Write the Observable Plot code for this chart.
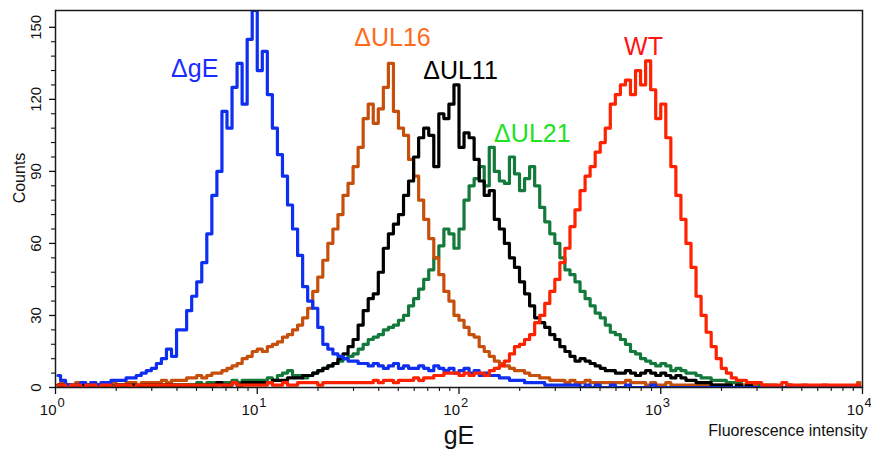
<!DOCTYPE html>
<html><head><meta charset="utf-8">
<script src="https://cdn.jsdelivr.net/npm/d3@7"></script>
<script src="https://cdn.jsdelivr.net/npm/@observablehq/plot@0.6"></script>
<style>body{margin:0;background:#fff} svg{display:block}</style>
</head><body><div id="chart"></div>
<script>
// Histogram channels: 40 bins per decade over 10^0 .. 10^4 (160 bins)
const binsPerDecade = 40;
const decadeTicks = [1, 10, 100, 1000, 10000];
const decadeExponents = ["0", "1", "2", "3", "4"];
const countTicks = [0, 30, 60, 90, 120, 150];
const countMinorTicks = [6,12,18,24,36,42,48,54,66,72,78,84,96,102,108,114,126,132,138,144];

const seriesNames = ["ΔgE", "ΔUL16", "ΔUL11", "ΔUL21", "WT"];

const countsGE = [
  5,3,1,1,1,2,1,2,1,2, 2,3,3,3,4,4,5,6,7,8,
  10,12,16,13,24,24,32,38,44,52, 64,80,90,115,108,125,135,118,145,157,
  132,140,122,108,97,88,76,66,55,42, 36,33,25,18,16,14,13,12,11,11,
  10,10,9,10,9,8,9,10,8,9, 8,8,9,8,7,9,8,7,8,6,
  7,8,6,7,5,6,5,5,4,4, 3,3,3,2,2,2,2,1,1,1,
  1,1,1,1,0,1,0,1,0,0, 1,0,0,1,0,0,0,0,1,0,
  0,0,0,0,0,0,0,0,0,0, 0,0,0,0,0,0,0,0,0,0,
  0,0,0,0,0,0,0,0,0,0, 0,0,0,0,0,0,0,0,0,0
];
const countsUL16 = [
  1,2,1,1,2,1,1,2,1,1, 1,2,1,1,2,2,1,2,2,2,
  2,3,2,3,3,3,4,4,5,4, 5,6,6,7,8,9,10,12,13,15,
  16,15,17,18,19,21,22,24,26,29, 33,40,46,53,60,66,72,80,85,92,
  100,112,118,110,116,125,135,115,108,105, 95,88,78,70,62,54,47,40,36,30,
  28,25,22,21,17,15,13,11,10,9, 8,7,7,6,5,5,4,4,3,3,
  3,2,3,2,2,3,2,2,2,2, 2,2,2,3,2,2,2,1,2,1,
  1,2,1,1,1,1,1,1,1,1, 1,1,1,1,0,1,1,0,1,0,
  1,0,1,0,0,1,0,0,1,0, 0,0,1,0,0,0,0,0,0,2
];
const countsUL11 = [
  1,1,1,0,1,1,1,0,1,1, 1,0,1,1,1,1,0,1,1,1,
  1,1,1,1,1,1,1,1,1,1, 1,1,2,1,1,2,1,2,2,2,
  2,2,2,3,3,3,4,4,4,5, 5,6,7,8,9,10,12,14,17,20,
  26,32,37,39,48,58,64,68,72,80, 86,96,104,108,105,92,114,112,118,126,
  100,106,104,95,86,80,82,70,66,60, 54,50,44,39,34,29,27,25,22,20,
  17,15,13,11,12,11,10,9,8,7, 7,6,6,7,6,5,6,7,6,5,
  6,5,4,5,4,3,3,2,2,2, 1,1,1,1,0,1,0,1,0,0,
  0,0,0,0,0,0,0,0,0,0, 0,0,0,0,0,0,0,0,0,0
];
const countsUL21 = [
  1,1,1,1,0,1,1,1,0,1, 1,1,1,1,1,1,1,1,1,1,
  1,1,1,1,1,1,1,1,2,1, 2,2,2,2,2,3,2,3,3,3,
  3,3,4,3,5,6,7,5,5,4, 5,6,7,8,9,10,11,12,13,14,
  16,18,20,21,22,24,25,26,28,30, 34,37,41,45,49,54,59,66,64,58,
  66,78,84,87,92,84,100,90,86,85, 96,89,82,87,92,84,75,69,64,60,
  54,49,47,44,40,37,34,31,29,26, 23,22,20,18,15,14,12,11,10,9,
  10,9,7,8,7,6,6,5,4,4, 3,3,3,2,2,2,1,1,1,1,
  0,1,0,0,0,1,0,0,0,0, 0,0,0,0,0,0,0,0,0,0
];
const countsWT = [
  1,1,0,1,1,0,1,1,0,1, 1,0,1,1,1,0,1,1,1,1,
  1,1,1,1,1,1,1,1,1,1, 1,1,1,1,1,2,1,1,1,1,
  1,1,2,1,1,2,1,1,2,2, 2,2,1,2,2,2,2,2,2,2,
  2,2,2,3,2,3,3,2,3,3, 3,4,3,4,4,5,5,6,6,6,
  5,6,5,6,6,5,7,8,9,11, 14,17,18,20,22,27,30,35,40,45,
  52,58,67,74,82,88,92,98,102,108, 118,122,126,128,122,132,126,136,124,112,
  118,104,92,80,70,60,50,38,30,23, 17,12,8,6,4,3,3,2,2,2,
  1,1,1,1,2,1,1,1,1,1, 1,1,1,1,1,1,1,1,1,1
];

// Annotation label anchors (data units)
const labelX = [4.9, 46.8, 101.7, 231, 821];
const labelY = [132.5, 145.4, 132, 105.4, 142];

// styles
const lineColors = {"ΔgE": "#0f2ff0", "ΔUL16": "#c64f0c", "ΔUL11": "#000000", "ΔUL21": "#147a3c", "WT": "#ff2200"};
const labelColors = {"ΔgE": "#1a2cff", "ΔUL16": "#ff6a1a", "ΔUL11": "#000000", "ΔUL21": "#22e022", "WT": "#ff1414"};
const drawOrder = ["ΔUL21", "ΔUL16", "ΔUL11", "ΔgE", "WT"];

const countsBySeries = {"ΔgE": countsGE, "ΔUL16": countsUL16, "ΔUL11": countsUL11, "ΔUL21": countsUL21, "WT": countsWT};
const rows = name => countsBySeries[name].map((v, i) => ({x: Math.pow(10, (i + 0.5) / binsPerDecade), y: v}));

const xMinor = [];
for (const d of decadeTicks.slice(0, 4)) for (let k = 2; k <= 9; k++) xMinor.push(k * d);

const labels = seriesNames.map((n, i) => ({name: n, x: labelX[i], y: labelY[i]}));

const font = "'Liberation Sans', Arial, Helvetica, sans-serif";

const chart = Plot.plot({
  width: 871, height: 452,
  marginLeft: 55, marginRight: 9, marginTop: 10, marginBottom: 65,
  style: {fontFamily: font, background: "#fff", color: "#111", overflow: "visible"},
  x: {type: "log", domain: [1, 10000]},
  y: {domain: [0, 157]},
  marks: [
    ...drawOrder.map(n => Plot.line(rows(n), {x: "x", y: "y", curve: "step", stroke: lineColors[n], strokeWidth: 3.2, clip: true})),
    Plot.frame({stroke: "#1a1a1a", strokeWidth: 1.5}),
    Plot.axisX({ticks: decadeTicks, tickSize: 7, tickFormat: () => "", label: null, strokeWidth: 1.3}),
    Plot.axisX({ticks: xMinor, tickSize: 4, tickFormat: () => "", label: null, strokeWidth: 1.1}),
    Plot.axisY({ticks: countTicks, tickSize: 6, tickFormat: () => "", label: null, strokeWidth: 1.3}),
    Plot.axisY({ticks: countMinorTicks, tickSize: 4, tickFormat: () => "", label: null, strokeWidth: 1.1}),
    Plot.text(decadeTicks, {x: d => d, text: () => "10", frameAnchor: "bottom", dy: 27, dx: 1, textAnchor: "end", lineAnchor: "bottom", fontSize: 15, fill: "#111"}),
    Plot.text(decadeTicks, {x: d => d, text: (d, i) => decadeExponents[i], frameAnchor: "bottom", dy: 19, dx: 2, textAnchor: "start", lineAnchor: "bottom", fontSize: 13, fill: "#111"}),
    Plot.text(countTicks, {y: d => d, text: d => String(d), frameAnchor: "left", dx: -15, rotate: -90, textAnchor: "middle", lineAnchor: "bottom", fontSize: 15, fill: "#111"}),
    Plot.text(["Counts"], {text: d => d, frameAnchor: "left", dx: -31, dy: -21, rotate: -90, textAnchor: "middle", lineAnchor: "bottom", fontSize: 16, fill: "#111"}),
    Plot.text(["gE"], {text: d => d, frameAnchor: "bottom", dy: 56, lineAnchor: "bottom", fontSize: 25, fill: "#111"}),
    Plot.text(["Fluorescence intensity"], {text: d => d, frameAnchor: "bottom-right", dx: 5, dy: 48, textAnchor: "end", lineAnchor: "bottom", fontSize: 16, fill: "#111"}),
    ...labels.map(l => Plot.text([l], {x: "x", y: "y", text: "name", fill: labelColors[l.name], fontSize: 25, lineAnchor: "middle"}))
  ]
});
document.getElementById("chart").appendChild(chart);
</script>
</body></html>
